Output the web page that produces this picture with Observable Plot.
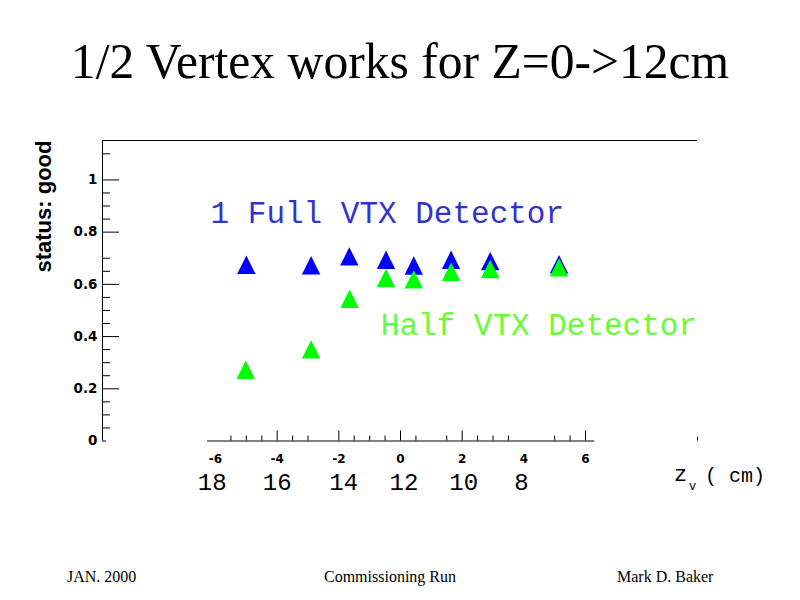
<!DOCTYPE html>
<html>
<head>
<meta charset="utf-8">
<script src="https://cdn.jsdelivr.net/npm/d3@7"></script>
<script src="https://cdn.jsdelivr.net/npm/@observablehq/plot@0.6"></script>
<style>
  body { margin: 0; background: #fff; }
  #wrap { position: relative; width: 800px; height: 600px; overflow: hidden; background: #fff; }
  #chart { position: absolute; left: 0; top: 0; }
  #title { position: absolute; left: 0; top: 37px; width: 800px; text-align: center;
           font-family: "Liberation Serif", serif; font-size: 49.6px; line-height: 49px; color: #000; white-space: nowrap; }
  .foot { position: absolute; top: 569px; font-family: "Liberation Serif", serif; font-size: 16px; line-height: 16px; color: #000; white-space: nowrap; }
  .xl { position: absolute; font-family: "Liberation Mono", monospace; line-height: 24px; white-space: pre; color: #000; }
</style>
</head>
<body>
<div id="wrap">
  <div id="chart"></div>
  <div id="title">1/2 Vertex works for Z=0-&gt;12cm</div>
  <div class="foot" style="left:67px">JAN. 2000</div>
  <div class="foot" style="left:324px">Commissioning Run</div>
  <div class="foot" style="left:617px">Mark D. Baker</div>
  <div class="xl" style="left:674px; top:464px; font-size:22px;">z</div>
  <div class="xl" style="left:689px; top:475px; font-size:12px;">v</div>
  <div class="xl" style="left:705px; top:465px; font-size:20px;">( cm)</div>
</div>
<script>
// ---- data ----
const zvFull  = [-5.0, -2.9, -1.66, -0.47, 0.43, 1.64, 2.91, 5.14];
const effFull = [0.675, 0.673, 0.707, 0.694, 0.672, 0.694, 0.689, 0.677];
const zvHalf  = [-5.02, -2.9, -1.65, -0.47, 0.43, 1.64, 2.91, 5.14];
const effHalf = [0.273, 0.351, 0.545, 0.625, 0.619, 0.648, 0.659, 0.665];

const legendText  = ["1 Full VTX Detector", "Half VTX Detector"];
const legendX     = [-6.16, -0.64];
const legendY     = [0.872, 0.4425];
const legendColor = ["#3333cc", "#66ff33"];

const yMajorTicks = [0.2, 0.4, 0.6, 0.8, 1];
const yLabelTicks = [0, 0.2, 0.4, 0.6, 0.8, 1];
const yLabelText  = ["0", "0.2", "0.4", "0.6", "0.8", "1"];
const yMinorTicks = [0.05, 0.1, 0.15, 0.25, 0.3, 0.35, 0.45, 0.5, 0.55, 0.65, 0.7, 0.85, 0.9, 0.95, 1.1];
const xMajorTicks = [-4, -2, 0, 2, 6];
const xMinorTicks = [-5.5, -5, -4.5, -3.5, -3, -1.5, -1, -0.5, 0.5, 1.5, 2.5, 3, 3.5, 5, 5.5];
const xLabelTicks = [-6, -4, -2, 0, 2, 4, 6];
const zLabelPos   = [-6.11, -4.0, -1.84, 0.11, 2.05, 3.92];
const zLabelText  = ["18", "16", "14", "12", "10", "8"];

const xDomain = [-9.666, 9.633];
const yDomain = [0, 1.151];
const xAxisRange = [-6.26, 6.3];

// ---- build ----
const full = zvFull.map((x, i) => ({x, y: effFull[i]}));
const half = zvHalf.map((x, i) => ({x, y: effHalf[i]}));
const legend = legendText.map((t, i) => ({t, x: legendX[i], y: legendY[i], c: legendColor[i]}));
const zlab = zLabelText.map((t, i) => ({t, x: zLabelPos[i]}));
const ylab = yLabelText.map((t, i) => ({t, y: yLabelTicks[i]}));

const triangle = {
  draw(ctx, size) {
    const r = Math.sqrt(size / Math.PI);
    ctx.moveTo(0, -r);
    ctx.lineTo(r, r);
    ctx.lineTo(-r, r);
    ctx.closePath();
  }
};

const chart = Plot.plot({
  width: 800,
  height: 600,
  marginLeft: 102,
  marginRight: 103,
  marginTop: 140,
  marginBottom: 159.5,
  x: {domain: xDomain, label: null},
  y: {domain: yDomain, label: null},
  style: {background: "white", color: "black", fontFamily: "DejaVu Sans, sans-serif", overflow: "visible"},
  marks: [
    // frame lines
    Plot.ruleX([xDomain[0]], {y1: yDomain[0], y2: yDomain[1], stroke: "black"}),
    Plot.ruleY([yDomain[1]], {stroke: "black"}),
    Plot.ruleX([xDomain[1]], {y1: 0, y2: 0.015, stroke: "black"}),
    Plot.ruleY([0], {x1: xAxisRange[0], x2: xAxisRange[1], stroke: "black"}),
    // y axis ticks
    Plot.axisY(yMajorTicks, {anchor: "left", tickSize: -17, tickFormat: () => "", label: null}),
    Plot.axisY([0], {anchor: "left", tickSize: -4, tickFormat: () => "", label: null}),
    Plot.axisY(yMinorTicks, {anchor: "left", tickSize: -8, tickFormat: () => "", label: null}),
    Plot.text(ylab, {frameAnchor: "left", y: "y", text: "t", textAnchor: "end", dx: -5,
      fontSize: 13.5, fontWeight: "bold", fontFamily: "DejaVu Sans", fill: "black"}),
    // x axis ticks
    Plot.axisX(xMajorTicks, {anchor: "bottom", tickSize: -10, tickFormat: () => "", label: null}),
    Plot.axisX(xMinorTicks, {anchor: "bottom", tickSize: -5, tickFormat: () => "", label: null}),
    Plot.text(xLabelTicks, {x: d => d, frameAnchor: "bottom", text: d => String(d), lineAnchor: "middle", dy: 18,
      fontSize: 12, fontWeight: "bold", fontFamily: "DejaVu Sans", fill: "black"}),
    // z labels second row
    Plot.text(zlab, {x: "x", y: () => 0, text: "t", dy: 41, lineAnchor: "middle",
      fontSize: 24, fontFamily: "Liberation Mono", fill: "black"}),
    // y axis title
    Plot.text(["status: good"], {frameAnchor: "top-left", text: d => d, rotate: -90, textAnchor: "end",
      lineAnchor: "bottom", dx: -52, fontSize: 22, fontWeight: "bold", fontFamily: "Liberation Sans", fill: "black"}),
    // data
    Plot.dot(full, {x: "x", y: "y", symbol: triangle, r: 9.2, fill: "#0000ff", stroke: null}),
    Plot.dot(half, {x: "x", y: "y", symbol: triangle, r: 9.2, fill: "#00ff00", stroke: null}),
    // legend labels
    Plot.text(legend, {x: "x", y: "y", text: "t", fill: "c", textAnchor: "start", lineAnchor: "middle",
      fontSize: 31, fontFamily: "Liberation Mono"})
  ]
});
document.getElementById("chart").appendChild(chart);
</script>
</body>
</html>
